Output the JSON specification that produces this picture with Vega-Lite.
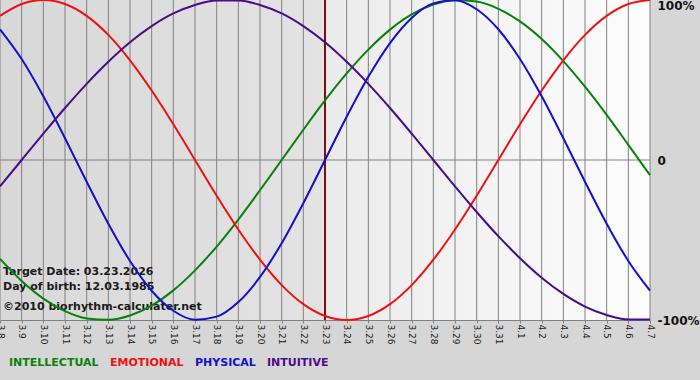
{
  "$schema": "https://vega.github.io/schema/vega-lite/v6.json",
  "width": 650,
  "height": 320,
  "autosize": {"type": "none"},
  "padding": {"left": 0, "top": 0, "right": 50, "bottom": 60},
  "background": "#d6d6d6",
  "config": {
    "view": {"stroke": null},
    "font": "DejaVu Sans",
    "axisX": {"grid": false, "domainColor": "#808080", "tickColor": "#808080", "tickSize": 3, "labelAngle": 90, "labelFontSize": 9, "labelColor": "#1a1a1a", "labelPadding": 1, "labelFlush": false, "labelOverlap": false, "labelBound": false}
  },
  "datasets": {
    "curves": [
      {"date": "2026-03-08", "INTELLECTUAL": -61.8, "EMOTIONAL": 90.1, "PHYSICAL": 81.7, "INTUITIVE": -16.5},
      {"date": "2026-03-09", "INTELLECTUAL": -75.6, "EMOTIONAL": 97.5, "PHYSICAL": 63.1, "INTUITIVE": 0},
      {"date": "2026-03-10", "INTELLECTUAL": -86.6, "EMOTIONAL": 100, "PHYSICAL": 39.8, "INTUITIVE": 16.5},
      {"date": "2026-03-11", "INTELLECTUAL": -94.5, "EMOTIONAL": 97.5, "PHYSICAL": 13.6, "INTUITIVE": 32.5},
      {"date": "2026-03-12", "INTELLECTUAL": -99.0, "EMOTIONAL": 90.1, "PHYSICAL": -13.6, "INTUITIVE": 47.6},
      {"date": "2026-03-13", "INTELLECTUAL": -99.9, "EMOTIONAL": 78.2, "PHYSICAL": -39.8, "INTUITIVE": 61.4},
      {"date": "2026-03-14", "INTELLECTUAL": -97.2, "EMOTIONAL": 62.3, "PHYSICAL": -63.1, "INTUITIVE": 73.6},
      {"date": "2026-03-15", "INTELLECTUAL": -91.0, "EMOTIONAL": 43.4, "PHYSICAL": -81.7, "INTUITIVE": 83.7},
      {"date": "2026-03-16", "INTELLECTUAL": -81.5, "EMOTIONAL": 22.3, "PHYSICAL": -94.2, "INTUITIVE": 91.6},
      {"date": "2026-03-17", "INTELLECTUAL": -69.0, "EMOTIONAL": 0, "PHYSICAL": -99.8, "INTUITIVE": 96.9},
      {"date": "2026-03-18", "INTELLECTUAL": -54.1, "EMOTIONAL": -22.3, "PHYSICAL": -97.9, "INTUITIVE": 99.7},
      {"date": "2026-03-19", "INTELLECTUAL": -37.2, "EMOTIONAL": -43.4, "PHYSICAL": -88.8, "INTUITIVE": 99.7},
      {"date": "2026-03-20", "INTELLECTUAL": -18.9, "EMOTIONAL": -62.3, "PHYSICAL": -73.1, "INTUITIVE": 96.9},
      {"date": "2026-03-21", "INTELLECTUAL": 0, "EMOTIONAL": -78.2, "PHYSICAL": -52.0, "INTUITIVE": 91.6},
      {"date": "2026-03-22", "INTELLECTUAL": 18.9, "EMOTIONAL": -90.1, "PHYSICAL": -27.0, "INTUITIVE": 83.7},
      {"date": "2026-03-23", "INTELLECTUAL": 37.2, "EMOTIONAL": -97.5, "PHYSICAL": 0, "INTUITIVE": 73.6},
      {"date": "2026-03-24", "INTELLECTUAL": 54.1, "EMOTIONAL": -100, "PHYSICAL": 27.0, "INTUITIVE": 61.4},
      {"date": "2026-03-25", "INTELLECTUAL": 69.0, "EMOTIONAL": -97.5, "PHYSICAL": 52.0, "INTUITIVE": 47.6},
      {"date": "2026-03-26", "INTELLECTUAL": 81.5, "EMOTIONAL": -90.1, "PHYSICAL": 73.1, "INTUITIVE": 32.5},
      {"date": "2026-03-27", "INTELLECTUAL": 91.0, "EMOTIONAL": -78.2, "PHYSICAL": 88.8, "INTUITIVE": 16.5},
      {"date": "2026-03-28", "INTELLECTUAL": 97.2, "EMOTIONAL": -62.3, "PHYSICAL": 97.9, "INTUITIVE": 0},
      {"date": "2026-03-29", "INTELLECTUAL": 99.9, "EMOTIONAL": -43.4, "PHYSICAL": 99.8, "INTUITIVE": -16.5},
      {"date": "2026-03-30", "INTELLECTUAL": 99.0, "EMOTIONAL": -22.3, "PHYSICAL": 94.2, "INTUITIVE": -32.5},
      {"date": "2026-03-31", "INTELLECTUAL": 94.5, "EMOTIONAL": 0, "PHYSICAL": 81.7, "INTUITIVE": -47.6},
      {"date": "2026-04-01", "INTELLECTUAL": 86.6, "EMOTIONAL": 22.3, "PHYSICAL": 63.1, "INTUITIVE": -61.4},
      {"date": "2026-04-02", "INTELLECTUAL": 75.6, "EMOTIONAL": 43.4, "PHYSICAL": 39.8, "INTUITIVE": -73.6},
      {"date": "2026-04-03", "INTELLECTUAL": 61.8, "EMOTIONAL": 62.3, "PHYSICAL": 13.6, "INTUITIVE": -83.7},
      {"date": "2026-04-04", "INTELLECTUAL": 45.8, "EMOTIONAL": 78.2, "PHYSICAL": -13.6, "INTUITIVE": -91.6},
      {"date": "2026-04-05", "INTELLECTUAL": 28.2, "EMOTIONAL": 90.1, "PHYSICAL": -39.8, "INTUITIVE": -96.9},
      {"date": "2026-04-06", "INTELLECTUAL": 9.5, "EMOTIONAL": 97.5, "PHYSICAL": -63.1, "INTUITIVE": -99.7},
      {"date": "2026-04-07", "INTELLECTUAL": -9.5, "EMOTIONAL": 100, "PHYSICAL": -81.7, "INTUITIVE": -99.7}
    ]
  },
  "layer": [
    {
      "data": {"values": [{"from": "2026-03-08", "to": "2026-03-23"}]},
      "mark": {"type": "rect", "color": {"gradient": "linear", "x1": 0, "y1": 0, "x2": 1, "y2": 0, "stops": [{"offset": 0, "color": "#d8d8d8"}, {"offset": 1, "color": "#e3e3e3"}]}},
      "encoding": {
        "x": {"field": "from", "type": "temporal", "title": null},
        "x2": {"field": "to"}
      }
    },
    {
      "data": {"values": [{"from": "2026-03-23", "to": "2026-04-07"}]},
      "mark": {"type": "rect", "color": {"gradient": "linear", "x1": 0, "y1": 0, "x2": 1, "y2": 0, "stops": [{"offset": 0, "color": "#ebebeb"}, {"offset": 1, "color": "#fdfdfd"}]}},
      "encoding": {
        "x": {"field": "from", "type": "temporal", "title": null},
        "x2": {"field": "to"}
      }
    },
    {
      "data": {"name": "curves"},
      "mark": {"type": "rule", "color": "#808080", "strokeWidth": 1},
      "encoding": {
        "x": {"field": "date", "type": "temporal", "title": null}
      }
    },
    {
      "data": {"values": [{"level": 0}]},
      "mark": {"type": "rule", "color": "#808080", "strokeWidth": 1},
      "encoding": {
        "y": {"field": "level", "type": "quantitative", "title": null}
      }
    },
    {
      "data": {"values": [{"date": "2026-03-23"}]},
      "mark": {"type": "rule", "color": "#7a1010", "strokeWidth": 2},
      "encoding": {
        "x": {"field": "date", "type": "temporal", "title": null}
      }
    },
    {
      "data": {"values": [
        {"note": "Target Date: 03.23.2026", "date": "2026-03-08", "level": -69.7},
        {"note": "Day of birth: 12.03.1985", "date": "2026-03-08", "level": -79.1},
        {"note": "©2010 biorhythm-calculater.net", "date": "2026-03-08", "level": -91.6}
      ]},
      "mark": {"type": "text", "align": "left", "baseline": "middle", "dx": 3, "font": "DejaVu Sans", "fontSize": 11, "fontWeight": "bold", "color": "#1a1a1a"},
      "encoding": {
        "x": {"field": "date", "type": "temporal", "title": null},
        "y": {"field": "level", "type": "quantitative", "title": null},
        "text": {"field": "note"}
      }
    },
    {
      "data": {"name": "curves"},
      "transform": [{"fold": ["INTELLECTUAL", "EMOTIONAL", "PHYSICAL", "INTUITIVE"], "as": ["series", "value"]}],
      "mark": {"type": "line", "strokeWidth": 2, "interpolate": "monotone", "clip": false},
      "encoding": {
        "x": {
          "field": "date", "type": "temporal", "title": null,
          "scale": {"type": "utc", "domain": [{"year": 2026, "month": 3, "date": 8, "utc": true}, {"year": 2026, "month": 4, "date": 7, "utc": true}], "nice": false, "padding": 0},
          "axis": {"format": "%-m.%-d", "tickCount": {"interval": "day", "step": 1}, "title": null}
        },
        "y": {
          "field": "value", "type": "quantitative", "title": null,
          "scale": {"domain": [-100, 100], "nice": false, "zero": false},
          "axis": {
            "orient": "right", "values": [-100, 0, 100], "title": null,
            "labelExpr": "datum.value == 0 ? '0' : datum.value + '%'",
            "domain": false, "ticks": false, "grid": false,
            "labelFontSize": 12, "labelFontWeight": "bold", "labelColor": "#111111", "labelPadding": 7, "labelFlush": false,
            "labelBaseline": {"condition": {"test": "datum.value == 100", "value": "top"}, "value": "middle"}
          }
        },
        "color": {
          "field": "series", "type": "nominal",
          "scale": {"domain": ["INTELLECTUAL", "EMOTIONAL", "PHYSICAL", "INTUITIVE"], "range": ["#0a800a", "#ee1111", "#1111cc", "#4b0a8c"]},
          "legend": {
            "orient": "none", "legendX": -2, "legendY": 357, "direction": "horizontal", "title": null,
            "symbolSize": 0, "symbolOpacity": 0, "symbolStrokeWidth": 0, "labelOffset": 0, "columnPadding": -3, "padding": 0,
            "labelFont": "DejaVu Sans", "labelFontSize": 11, "labelFontWeight": "bold",
            "labelColor": {"expr": "datum.value == 'INTELLECTUAL' ? '#0a800a' : datum.value == 'EMOTIONAL' ? '#ee1111' : datum.value == 'PHYSICAL' ? '#1111cc' : '#4b0a8c'"}
          }
        }
      }
    }
  ]
}
